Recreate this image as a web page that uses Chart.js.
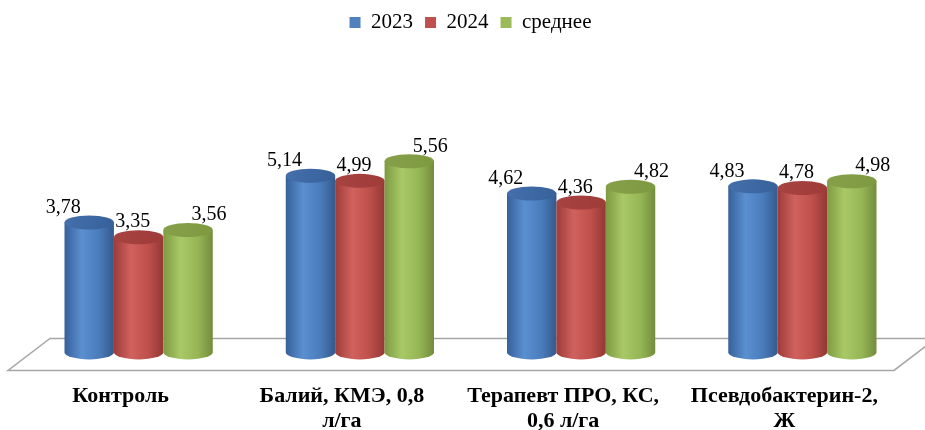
<!DOCTYPE html>
<html>
<head>
<meta charset="utf-8">
<script src="https://cdn.jsdelivr.net/npm/chart.js@4.4.0/dist/chart.umd.min.js"></script>
<style>
  html, body { margin: 0; padding: 0; background: #fff; }
</style>
</head>
<body>
<canvas id="chart" width="925" height="430"></canvas>
<script>
// data
const categories = [
    ["Контроль"],
    ["Балий, КМЭ, 0,8", "л/га"],
    ["Терапевт ПРО, КС,", "0,6 л/га"],
    ["Псевдобактерин-2,", "Ж"]
];
const seriesNames = ["2023", "2024", "среднее"];
const values2023 = [3.78, 5.14, 4.62, 4.83];
const values2024 = [3.35, 4.99, 4.36, 4.78];
const valuesAvg = [3.56, 5.56, 4.82, 4.98];

// colours: [left edge, highlight, shade, right edge, top]
const shades = [
    ["#37609a", "#5a8fd0", "#4a7cbb", "#34598c", "#4470ab"],
    ["#9e3c39", "#d0625e", "#be4f4b", "#933835", "#a84340"],
    ["#7e9a41", "#a9c967", "#96b656", "#738c3b", "#86a049"]
];
const legendColors = ["#4f81bd", "#c0504d", "#9bbb59"];
const labelShift = [-26, -6, 21];
const RY = 7;

function drawCylinder(ctx, bar, s) {
    const w = bar.width;
    const x0 = bar.x - w / 2;
    const x1 = bar.x + w / 2;
    const top = bar.y;
    const bot = bar.base;

    const g = ctx.createLinearGradient(x0, 0, x1, 0);
    g.addColorStop(0, s[0]);
    g.addColorStop(0.35, s[1]);
    g.addColorStop(0.7, s[2]);
    g.addColorStop(1, s[3]);
    ctx.fillStyle = g;
    ctx.beginPath();
    ctx.moveTo(x0, top);
    ctx.lineTo(x0, bot);
    ctx.ellipse(bar.x, bot, w / 2, RY, 0, Math.PI, 0, true);
    ctx.lineTo(x1, top);
    ctx.closePath();
    ctx.fill();

    const tg = ctx.createLinearGradient(x0, top - RY, x1, top + RY);
    tg.addColorStop(0, s[4]);
    tg.addColorStop(1, s[0]);
    ctx.fillStyle = tg;
    ctx.beginPath();
    ctx.ellipse(bar.x, top, w / 2, RY, 0, 0, Math.PI * 2);
    ctx.fill();
}

const cylinders = {
    id: "cylinders",
    beforeDatasetsDraw(chart) {
        const ctx = chart.ctx;
        const area = chart.chartArea;
        const base = chart.scales.y.getPixelForValue(0);

        // floor
        ctx.save();
        ctx.fillStyle = "#fff";
        ctx.strokeStyle = "#a6a6a6";
        ctx.lineWidth = 1.5;
        ctx.beginPath();
        ctx.moveTo(area.left - 20, base + 18);
        ctx.lineTo(area.right - 19, base + 18);
        ctx.lineTo(area.right + 23, base - 14);
        ctx.lineTo(area.left + 22, base - 14);
        ctx.closePath();
        ctx.fill();
        ctx.stroke();

        chart.data.datasets.forEach((ds, i) => {
            chart.getDatasetMeta(i).data.forEach(bar => drawCylinder(ctx, bar, shades[i]));
        });
        ctx.restore();
        return false;
    },
    afterDraw(chart) {
        const ctx = chart.ctx;
        ctx.save();
        ctx.font = "20px 'Liberation Serif'";
        ctx.fillStyle = "#000";
        ctx.textAlign = "center";
        ctx.textBaseline = "middle";
        chart.data.datasets.forEach((ds, i) => {
            chart.getDatasetMeta(i).data.forEach((bar, j) => {
                const txt = ds.data[j].toFixed(2).replace(".", ",");
                ctx.fillText(txt, bar.x + labelShift[i], bar.y - RY - 8);
            });
        });
        ctx.restore();
    }
};

new Chart(document.getElementById("chart"), {
    type: "bar",
    data: {
        labels: categories,
        datasets: [
            { label: seriesNames[0], data: values2023, backgroundColor: legendColors[0] },
            { label: seriesNames[1], data: values2024, backgroundColor: legendColors[1] },
            { label: seriesNames[2], data: valuesAvg, backgroundColor: legendColors[2] }
        ]
    },
    options: {
        responsive: false,
        animation: false,
        devicePixelRatio: 1,
        categoryPercentage: 0.67,
        barPercentage: 1,
        layout: { padding: { left: 28, right: 12, top: 0, bottom: -4 } },
        plugins: {
            tooltip: { enabled: false },
            legend: {
                position: "top",
                labels: {
                    boxWidth: 11,
                    boxHeight: 11,
                    padding: 12,
                    color: "#000",
                    font: { family: "'Liberation Serif'", size: 21 }
                }
            }
        },
        scales: {
            x: {
                grid: { display: false, drawTicks: true, tickLength: 31 },
                border: { display: false },
                ticks: {
                    color: "#000",
                    padding: 0,
                    labelOffset: -18,
                    maxRotation: 0,
                    autoSkip: false,
                    font: { family: "'Liberation Serif'", size: 22, weight: "bold", lineHeight: 1.15 }
                }
            },
            y: { display: false, min: 0, max: 9 }
        }
    },
    plugins: [cylinders]
});
</script>
</body>
</html>
